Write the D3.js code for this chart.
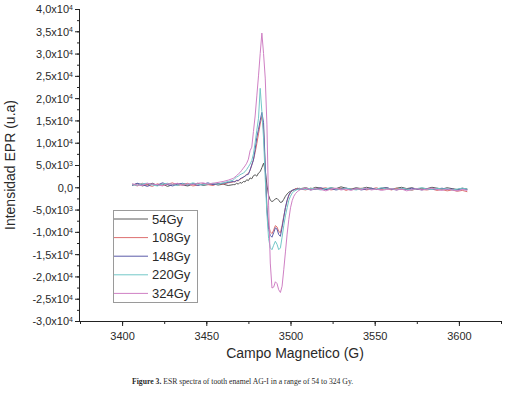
<!DOCTYPE html>
<html lang="es">
<head>
<meta charset="UTF-8">
<title>ESR spectra</title>
<script src="https://d3js.org/d3.v7.min.js"></script>
<style>
  body { margin: 0; background: #fff; }
  svg text { font-family: "Liberation Sans", Arial, sans-serif; fill: #2a2a2a; }
  .axis path, .axis line { stroke: #222; }
  .spec { fill: none; stroke-width: 1; stroke-linejoin: round; }
  .caption { font-family: "Liberation Serif", "DejaVu Serif", serif; }
</style>
</head>
<body>
<script>
// magnetic field (G)
const field = [
  3406,3409,3412,3415,3418,3421,3424,3427,3430,3433,3436,3439,3442,3445,3448,3451,3454,3457,3460,3463,3466,
  3467,3468,3469,3470,3471,3472,3473,3474,3475,3476,3477,3478,3479,3480,3481,3482,3483,3484,3485,3486,
  3487,3488,3489,3490,3491,3492,3493,3494,3495,3496,3497,3498,3499,3500,3501,3502,3503,3504,3505,
  3506,3509,3512,3515,3518,3521,3524,3527,3530,3533,3536,3539,3542,3545,3548,3551,3554,3557,3560,3563,
  3566,3569,3572,3575,3578,3581,3584,3587,3590,3593,3596,3599,3602,3605
];

// intensities, in units of 10^3 (u.a)
const gy54 = [
  0.5,0.8,0.3,0.6,0.9,0.4,0.7,0.2,0.6,0.8,0.5,0.3,0.7,0.9,0.4,0.6,0.8,0.5,0.7,0.4,0.6,
  0.6,0.9,0.7,1.1,0.9,1.3,1.2,1.7,1.5,2.1,1.9,2.6,2.8,2.5,3.2,3.5,4.4,5.4,3.8,0.5,
  -1.8,-2.9,-3.2,-3.0,-2.6,-2.5,-2.9,-3.4,-3.3,-2.7,-2.0,-1.5,-1.1,-0.9,-0.7,-0.6,-0.3,-0.5,-0.2,
  -0.3,-0.1,-0.4,0.0,-0.2,-0.5,-0.1,-0.3,0.1,-0.2,-0.4,-0.1,-0.3,0.0,-0.2,-0.5,-0.2,-0.1,-0.4,-0.2,
  0.0,-0.3,-0.1,-0.4,-0.2,-0.3,0.0,-0.2,-0.4,-0.1,-0.3,-0.5,-0.2,-0.4
];
const gy108 = [
  0.7,0.3,0.9,0.5,0.2,0.8,0.4,0.7,1.0,0.4,0.6,0.9,0.3,0.5,0.8,0.6,0.4,0.9,0.7,1.0,1.2,
  1.3,1.5,1.4,1.8,2.0,2.2,2.6,2.9,3.1,3.8,5.0,6.2,7.8,9.8,12.0,14.2,15.9,13.0,4.0,-4.5,
  -8.5,-10.0,-10.4,-9.6,-8.6,-8.9,-9.9,-10.2,-8.6,-6.5,-4.6,-3.0,-1.9,-1.2,-0.8,-0.5,-0.4,-0.2,-0.3,
  -0.4,-0.6,-0.2,-0.5,-0.3,-0.1,-0.6,-0.4,-0.2,-0.7,-0.3,-0.5,-0.2,-0.6,-0.4,-0.1,-0.5,-0.3,-0.6,-0.2,
  -0.5,-0.4,-0.7,-0.3,-0.5,-0.6,-0.4,-0.7,-0.5,-0.8,-0.6,-0.9,-0.7,-1.0
];
const gy148 = [
  0.4,0.9,0.6,0.2,0.7,0.5,1.0,0.6,0.3,0.7,0.9,0.5,0.8,0.4,0.7,1.0,0.6,0.8,0.9,1.1,1.3,
  1.2,1.6,1.5,1.9,2.1,2.3,2.5,2.8,2.9,3.9,5.0,6.1,8.5,11.2,13.0,15.0,16.8,14.5,5.0,-5.0,
  -9.5,-10.8,-11.2,-10.2,-9.1,-9.4,-10.6,-11.0,-9.0,-6.8,-4.5,-2.9,-1.7,-1.1,-0.7,-0.5,-0.6,-0.3,-0.4,
  -0.5,-0.3,-0.6,-0.4,-0.1,-0.5,-0.3,-0.6,-0.4,-0.2,-0.5,-0.3,-0.6,-0.4,-0.2,-0.5,-0.3,-0.1,-0.4,-0.6,
  -0.3,-0.5,-0.2,-0.4,-0.6,-0.3,-0.5,-0.4,-0.2,-0.5,-0.4,-0.6,-0.3,-0.5
];
const gy220 = [
  0.6,0.4,0.8,0.9,0.5,0.3,0.7,0.9,0.6,0.4,0.8,0.6,1.0,0.7,0.5,0.8,0.9,0.7,1.0,1.3,1.6,
  2.0,2.3,2.5,2.8,3.0,3.2,3.5,4.0,4.6,5.2,6.0,7.5,10.0,12.8,15.5,22.2,17.0,11.0,2.0,-6.0,
  -11.5,-13.6,-14.0,-13.0,-12.1,-12.8,-14.0,-13.6,-11.2,-8.6,-6.4,-4.6,-2.9,-2.0,-1.3,-0.9,-0.7,-0.5,-0.4,
  -0.3,-0.5,-0.2,-0.4,-0.6,-0.3,-0.1,-0.4,-0.5,-0.2,-0.4,-0.6,-0.3,-0.2,-0.5,-0.4,-0.1,-0.4,-0.3,-0.5,
  -0.2,-0.4,-0.6,-0.3,-0.1,-0.4,-0.5,-0.2,-0.4,-0.3,-0.6,-0.4,-0.2,-0.4
];
const gy324 = [
  0.8,0.5,0.4,0.9,0.7,0.6,0.3,0.8,0.7,0.9,0.4,0.8,0.6,0.9,1.0,0.7,0.9,1.1,1.3,1.6,2.0,
  2.3,2.6,3.0,3.3,3.8,4.3,4.8,5.4,6.3,8.2,9.0,12.5,16.0,20.5,25.0,30.0,34.6,30.0,24.5,14.0,
  -4.0,-17.0,-22.6,-22.4,-21.2,-21.6,-23.0,-23.6,-22.2,-18.5,-14.5,-10.5,-7.2,-4.6,-3.0,-2.0,-1.4,-1.0,-0.7,
  -0.5,-0.2,-0.6,-0.3,-0.5,-0.8,-0.4,-0.2,-0.6,-0.4,-0.7,-0.3,-0.5,-0.2,-0.6,-0.4,-0.7,-0.5,-0.3,-0.6,
  -0.4,-0.8,-0.5,-0.3,-0.6,-0.4,-0.2,-0.5,-0.7,-0.4,-0.6,-0.8,-0.5,-0.7
];

const seriesNames = ["54Gy", "108Gy", "148Gy", "220Gy", "324Gy"];
const seriesValues = [gy54, gy108, gy148, gy220, gy324];
const seriesColors = ["#5a5a5a", "#dd7070", "#5a5aa8", "#72c8c8", "#cf80c4"];

const xTicks = [3400, 3450, 3500, 3550, 3600];
const yTicks = [-30, -25, -20, -15, -10, -5, 0, 5, 10, 15, 20, 25, 30, 35, 40];

const width = 507, height = 397;
const svg = d3.select("body").append("svg").attr("width", width).attr("height", height);

const x = d3.scaleLinear().domain([3375, 3625]).range([80, 501]);
const y = d3.scaleLinear().domain([-30, 40]).range([321, 9]);

// x axis: minor ticks, then major ticks with labels
svg.append("g").attr("class", "axis").attr("transform", "translate(0,321)")
  .call(d3.axisBottom(x).tickValues(d3.range(3375, 3626, 25)).tickSize(3).tickFormat(""))
  .call(g => g.select(".domain").remove());
svg.append("g").attr("class", "axis").attr("transform", "translate(0,321)")
  .call(d3.axisBottom(x).tickValues(xTicks).tickSize(5).tickPadding(6).tickFormat(d3.format("d")))
  .call(g => g.selectAll("text").style("font-size", "11px").attr("fill", "#2a2a2a"))
  .call(g => g.select(".domain").attr("d", "M80,0.5H501"));

// y axis
svg.append("g").attr("class", "axis").attr("transform", "translate(80,0)")
  .call(d3.axisLeft(y).tickValues(d3.range(-30, 40.1, 2.5)).tickSize(3).tickFormat(""))
  .call(g => g.select(".domain").remove());
const yAxis = svg.append("g").attr("class", "axis").attr("transform", "translate(80,0)")
  .call(d3.axisLeft(y).tickValues(yTicks).tickSize(5).tickPadding(5).tickFormat(""))
  .call(g => g.select(".domain").attr("d", "M-0.5,321V9"));

yAxis.selectAll(".tick").each(function(d) {
  const t = d3.select(this).append("text")
    .attr("x", -7).attr("dy", "0.35em").attr("text-anchor", "end")
    .style("font-size", "11px").attr("fill", "#2a2a2a");
  if (d === 0) { t.text("0,0"); return; }
  const v = d * 1000;
  const e = Math.floor(Math.log10(Math.abs(v)));
  const m = (v / Math.pow(10, e)).toFixed(1).replace(".", ",");
  t.append("tspan").text(m + "x10");
  t.append("tspan").attr("dy", "-0.45em").style("font-size", "7px").text(String(e));
});

// spectra
const line = d3.line().x((d, i) => x(field[i])).y(d => y(d));
svg.selectAll("path.spec")
  .data(seriesValues)
  .join("path").attr("class", "spec")
  .attr("d", d => line(d))
  .attr("stroke", (d, i) => seriesColors[i]);

// legend
const leg = svg.append("g").attr("transform", "translate(113,210)");
leg.append("rect").attr("x", 0.5).attr("y", 0.5).attr("width", 84).attr("height", 92)
  .attr("fill", "#fff").attr("stroke", "#9a9a9a");
seriesNames.forEach((n, i) => {
  const yy = 9 + i * 18.6;
  leg.append("line").attr("x1", 1).attr("x2", 35).attr("y1", yy).attr("y2", yy)
    .attr("stroke", seriesColors[i]).attr("stroke-width", 1);
  leg.append("text").attr("x", 39).attr("y", yy).attr("dy", "0.36em")
    .style("font-size", "13px").text(n);
});

// axis titles
svg.append("text").attr("transform", "translate(15,165) rotate(-90)")
  .attr("text-anchor", "middle").style("font-size", "14px").text("Intensidad EPR (u.a)");
svg.append("text").attr("x", 295).attr("y", 358).attr("text-anchor", "middle")
  .style("font-size", "14px").text("Campo Magnetico (G)");

// caption
const cap = svg.append("text").attr("class", "caption").attr("x", 132).attr("y", 384)
  .style("font-size", "7.7px").attr("fill", "#333");
cap.append("tspan").attr("font-weight", "bold").text("Figure 3.");
cap.append("tspan").text(" ESR spectra of tooth enamel AG-I in a range of 54 to 324 Gy.");
</script>
</body>
</html>
